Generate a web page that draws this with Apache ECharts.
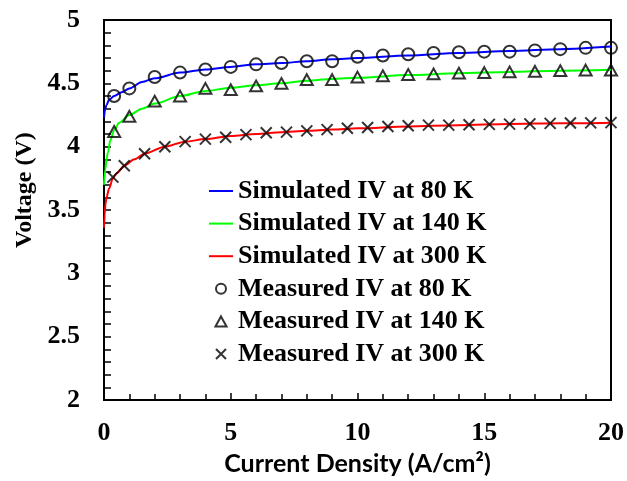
<!DOCTYPE html>
<html>
<head>
<meta charset="utf-8">
<script src="https://cdn.jsdelivr.net/npm/echarts@6/dist/echarts.min.js"></script>
<style>html,body{margin:0;padding:0;background:#fff}#c{width:627px;height:481px}</style>
</head>
<body>
<div id="c"></div>
<script>
// Simulated curves
var sim80 = [[0,4.23],[0.05,4.30],[0.1,4.33],[0.2,4.37],[0.4,4.40],[0.7,4.43],[1,4.46],[1.5,4.51],[2,4.54],[3,4.585],[4,4.61],[5,4.63],[6,4.65],[7,4.66],[8,4.675],[9,4.69],[10,4.70],[12,4.72],[14,4.74],[16,4.755],[18,4.77],[20,4.79]];
var sim140 = [[0,3.70],[0.05,3.82],[0.1,3.90],[0.15,3.95],[0.25,4.05],[0.4,4.13],[0.6,4.19],[1,4.25],[1.5,4.30],[2,4.34],[3,4.40],[4,4.44],[5,4.465],[6,4.485],[7,4.50],[8,4.52],[9,4.535],[10,4.545],[12,4.565],[14,4.58],[16,4.59],[18,4.60],[20,4.607]];
var sim300 = [[0,3.36],[0.03,3.47],[0.06,3.55],[0.1,3.60],[0.2,3.67],[0.35,3.75],[0.5,3.79],[0.8,3.85],[1.2,3.90],[1.6,3.945],[2.4,4.0],[3.2,4.04],[4,4.06],[5,4.085],[6,4.10],[7,4.115],[8,4.125],[9,4.135],[10,4.145],[12,4.16],[14,4.17],[16,4.18],[18,4.185],[20,4.19]];
// Measured points
var meas80 = [[0.4,4.40],[1,4.46],[2,4.55],[3,4.585],[4,4.61],[5,4.63],[6,4.65],[7,4.66],[8,4.675],[9,4.675],[10,4.71],[11,4.72],[12,4.73],[13,4.74],[14,4.745],[15,4.75],[16,4.75],[17,4.76],[18,4.77],[19,4.78],[20,4.78]];
var meas140 = [[0.4,4.12],[1,4.24],[2,4.36],[3,4.40],[4,4.46],[5,4.45],[6,4.48],[7,4.50],[8,4.53],[9,4.53],[10,4.55],[11,4.56],[12,4.57],[13,4.575],[14,4.58],[15,4.585],[16,4.59],[17,4.595],[18,4.60],[19,4.605],[20,4.605]];
var meas300 = [[0.35,3.76],[0.8,3.85],[1.6,3.945],[2.4,4.0],[3.2,4.04],[4.0,4.06],[4.8,4.075],[5.6,4.095],[6.4,4.11],[7.2,4.115],[8.0,4.125],[8.8,4.135],[9.6,4.145],[10.4,4.152],[11.2,4.16],[12.0,4.165],[12.8,4.17],[13.6,4.17],[14.4,4.173],[15.2,4.176],[16.0,4.178],[16.8,4.18],[17.6,4.184],[18.4,4.187],[19.2,4.188],[20,4.19]];
var seriesNames = ['Simulated IV at 80 K','Simulated IV at 140 K','Simulated IV at 300 K','Measured IV at 80 K','Measured IV at 140 K','Measured IV at 300 K'];
var xTitle = 'Current Density (A/cm²)';
var yTitle = 'Voltage (V)';

var serif = '"Liberation Serif","Times New Roman",serif';
var chart = echarts.init(document.getElementById('c'), null, {renderer:'canvas'});
function lineSeries(name, data, color){
  return {name:name, type:'line', data:data, symbol:'none', smooth:0.3, smoothMonotone:'x',
    lineStyle:{color:color, width:2}, itemStyle:{color:color}, z:2};
}
function markSeries(name, data, symbol, size){
  return {name:name, type:'scatter', data:data, symbol:symbol, symbolSize:size, symbolKeepAspect:true,
    itemStyle:{color:'rgba(0,0,0,0)', borderColor:'#000', borderWidth:2}, z:3};
}
var crossPath = 'path://M0,0L10,10M0,10L10,0';
var triPath = 'path://M5,0L10,9L0,9Z';
var barPath = 'path://M0,0H24V2H0Z';
var legendData = seriesNames.map(function(n, i){
  return i < 3 ? {name:n, icon:barPath} : {name:n};
});
chart.setOption({
  animation:false,
  grid:{left:104, right:15, top:20, bottom:80, show:true, borderColor:'#000', borderWidth:2, backgroundColor:'transparent'},
  legend:{
    orient:'vertical', left:209, top:178, padding:0, itemWidth:24, itemHeight:10, itemGap:6.6, itemTextGap:-2,
    data:legendData,
    textStyle:{fontFamily:serif, fontWeight:'bold', fontSize:26, color:'#000', lineHeight:26}
  },
  xAxis:{
    type:'value', min:0, max:20, interval:5,
    name:xTitle, nameLocation:'middle', nameGap:50,
    nameTextStyle:{fontFamily:'Lato, "Open Sans", sans-serif', fontWeight:'bold', fontSize:25, color:'#000'},
    axisLine:{show:true, lineStyle:{color:'#000', width:2}},
    axisTick:{show:true, inside:true, length:7, lineStyle:{color:'#000', width:1.5}},
    minorTick:{show:true, splitNumber:5, length:6, lineStyle:{color:'#000', width:1.5}},
    splitLine:{show:false},
    axisLabel:{fontFamily:serif, fontWeight:'bold', fontSize:26, color:'#000', margin:20}
  },
  yAxis:{
    type:'value', min:2, max:5, interval:0.5,
    name:yTitle, nameLocation:'middle', nameGap:66, nameRotate:90,
    nameTextStyle:{fontFamily:serif, fontWeight:'bold', fontSize:24, color:'#000', padding:[0,0,0,40]},
    axisLine:{show:true, lineStyle:{color:'#000', width:2}},
    axisTick:{show:true, inside:true, length:7, lineStyle:{color:'#000', width:1.5}},
    minorTick:{show:true, splitNumber:5, length:7, lineStyle:{color:'#000', width:1.5}},
    splitLine:{show:false},
    axisLabel:{fontFamily:serif, fontWeight:'bold', fontSize:26, color:'#000', margin:24}
  },
  series:[
    lineSeries(seriesNames[0], sim80, '#0000ff'),
    lineSeries(seriesNames[1], sim140, '#00ff00'),
    lineSeries(seriesNames[2], sim300, '#ff0000'),
    markSeries(seriesNames[3], meas80, 'circle', 12),
    markSeries(seriesNames[4], meas140, triPath, 12),
    markSeries(seriesNames[5], meas300, crossPath, 11)
  ]
});
</script>
</body>
</html>
